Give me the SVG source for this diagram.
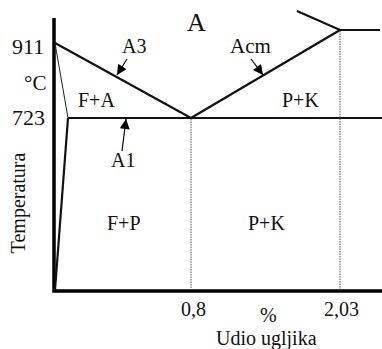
<svg xmlns="http://www.w3.org/2000/svg" width="382" height="349" viewBox="0 0 382 349">
<style>
.ax{stroke:#000;stroke-width:3.5;fill:none}
.ln{stroke:#111;stroke-width:2.2;fill:none}
.thin{stroke:#222;stroke-width:1;fill:none}
.dot{stroke:#555;stroke-width:1;stroke-dasharray:1.5 1;fill:none}
.ar{stroke:#111;stroke-width:1.2;fill:none}
</style>
<defs>
<marker id="ah" viewBox="0 0 10 10" refX="10" refY="5" markerWidth="12" markerHeight="10" markerUnits="userSpaceOnUse" orient="auto">
<path d="M0,0 L10,5 L0,10 z" fill="#000"/>
</marker>
</defs>
<g id="axes">
<path class="ax" d="M54,18 V291 H382"/>
</g>
<g id="connectors">
<path class="ln" d="M55,43 L191,118"/>
<path class="ln" d="M68,118 H382"/>
<path class="thin" d="M55,43 L68,118"/>
<path class="ln" d="M68,118 L55,290"/>
<path class="ln" d="M191,118 L340,30"/>
<path class="ln" d="M297,11 L340,30 H380"/>
<path class="dot" d="M191,119 V290"/>
<path class="dot" d="M340,31 V290"/>
<path class="ar" marker-end="url(#ah)" d="M127,59 L117,75"/>
<path class="ar" marker-end="url(#ah)" d="M251,59 L263,75"/>
<path class="ar" marker-end="url(#ah)" d="M122,151 L126,119"/>
</g>
<g id="labels" font-family="Liberation Serif" font-size="20" fill="#111">
<text x="12" y="54" font-size="22">911</text>
<text x="24" y="90" font-size="21">°C</text>
<text x="12" y="125" font-size="22">723</text>
<text x="187" y="31" font-size="26">A</text>
<text x="122" y="53">A3</text>
<text x="230" y="53" font-size="21">Acm</text>
<text x="78" y="107">F+A</text>
<text x="282" y="107">P+K</text>
<text x="111" y="167">A1</text>
<text x="107" y="230">F+P</text>
<text x="248" y="230">P+K</text>
<text transform="translate(25,203) rotate(-90)" text-anchor="middle">Temperatura</text>
<text x="181" y="316">0,8</text>
<text x="260" y="322">%</text>
<text x="324" y="316">2,03</text>
<text x="216" y="345">Udio ugljika</text>
</g>
</svg>
